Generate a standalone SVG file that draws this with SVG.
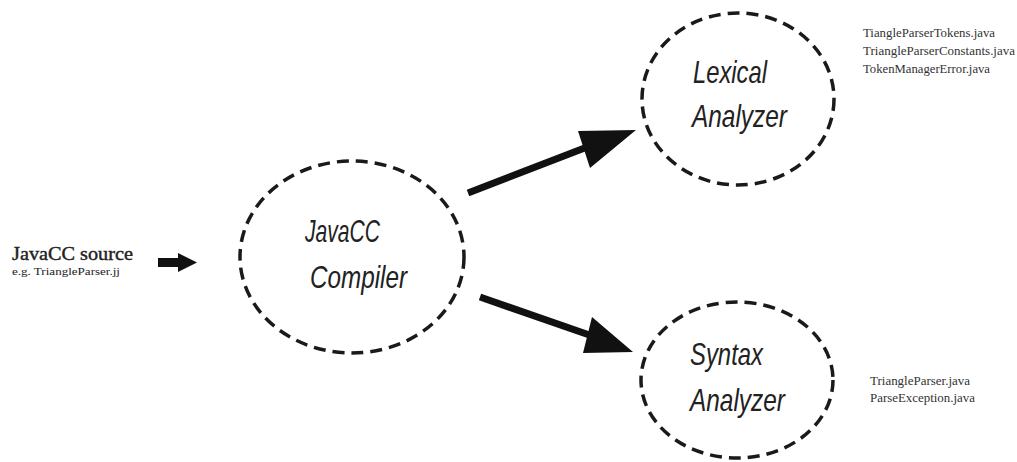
<svg xmlns="http://www.w3.org/2000/svg" width="1017" height="462" viewBox="0 0 1017 462">
  <style>
    .node { fill: none; stroke: #1a1a1a; stroke-width: 3.5; stroke-dasharray: 12 7; }
    .label { font-family: "Liberation Sans Narrow", "Liberation Sans", sans-serif; font-style: italic; font-size: 32px; fill: #222; }
    .serif { font-family: "Liberation Serif", serif; fill: #222; }
    .files { font-family: "Liberation Serif", serif; font-size: 12px; fill: #333; }
    .shaft { stroke: #111; stroke-width: 7; fill: none; }
    .head { fill: #111; }
  </style>
  <rect width="1017" height="462" fill="#ffffff"/>

  <!-- input description -->
  <g id="source">
    <text class="serif" x="12" y="260" font-size="18" stroke="#222" stroke-width="0.4" textLength="121" lengthAdjust="spacingAndGlyphs">JavaCC source</text>
    <text class="serif" x="12" y="275" font-size="11" textLength="108" lengthAdjust="spacingAndGlyphs">e.g. TriangleParser.jj</text>
  </g>

  <g id="compiler">
    <ellipse class="node" cx="352" cy="257" rx="112" ry="96"/>
    <text class="label" x="305" y="242" textLength="75" lengthAdjust="spacingAndGlyphs">JavaCC</text>
    <text class="label" x="310" y="288" textLength="97" lengthAdjust="spacingAndGlyphs">Compiler</text>
  </g>

  <g id="lexical">
    <ellipse class="node" cx="738" cy="99" rx="96" ry="86"/>
    <text class="label" x="693" y="83" textLength="74" lengthAdjust="spacingAndGlyphs">Lexical</text>
    <text class="label" x="692" y="127" textLength="95" lengthAdjust="spacingAndGlyphs">Analyzer</text>
  </g>

  <g id="syntax">
    <ellipse class="node" cx="737" cy="380" rx="96" ry="78"/>
    <text class="label" x="690" y="365" textLength="73" lengthAdjust="spacingAndGlyphs">Syntax</text>
    <text class="label" x="690" y="411" textLength="95" lengthAdjust="spacingAndGlyphs">Analyzer</text>
  </g>

  <!-- generated files -->
  <g id="lexical-files" class="files">
    <text x="863" y="37" textLength="132" lengthAdjust="spacingAndGlyphs">TiangleParserTokens.java</text>
    <text x="863" y="55" textLength="152" lengthAdjust="spacingAndGlyphs">TriangleParserConstants.java</text>
    <text x="863" y="73" textLength="127" lengthAdjust="spacingAndGlyphs">TokenManagerError.java</text>
  </g>
  <g id="syntax-files" class="files">
    <text x="870" y="385" textLength="100" lengthAdjust="spacingAndGlyphs">TriangleParser.java</text>
    <text x="870" y="402" textLength="105" lengthAdjust="spacingAndGlyphs">ParseException.java</text>
  </g>

  <g id="connectors">
    <!-- source to compiler -->
    <rect class="head" x="158" y="258" width="21" height="9"/>
    <polygon class="head" points="178,253 197,262.5 178,272"/>
    <!-- compiler to lexical analyzer -->
    <line class="shaft" x1="468" y1="193" x2="595" y2="144"/>
    <polygon class="head" points="636,130 578,131 590,168"/>
    <!-- compiler to syntax analyzer -->
    <line class="shaft" x1="480" y1="297" x2="598" y2="338"/>
    <polygon class="head" points="633,352 592,317 583,353"/>
  </g>
</svg>
